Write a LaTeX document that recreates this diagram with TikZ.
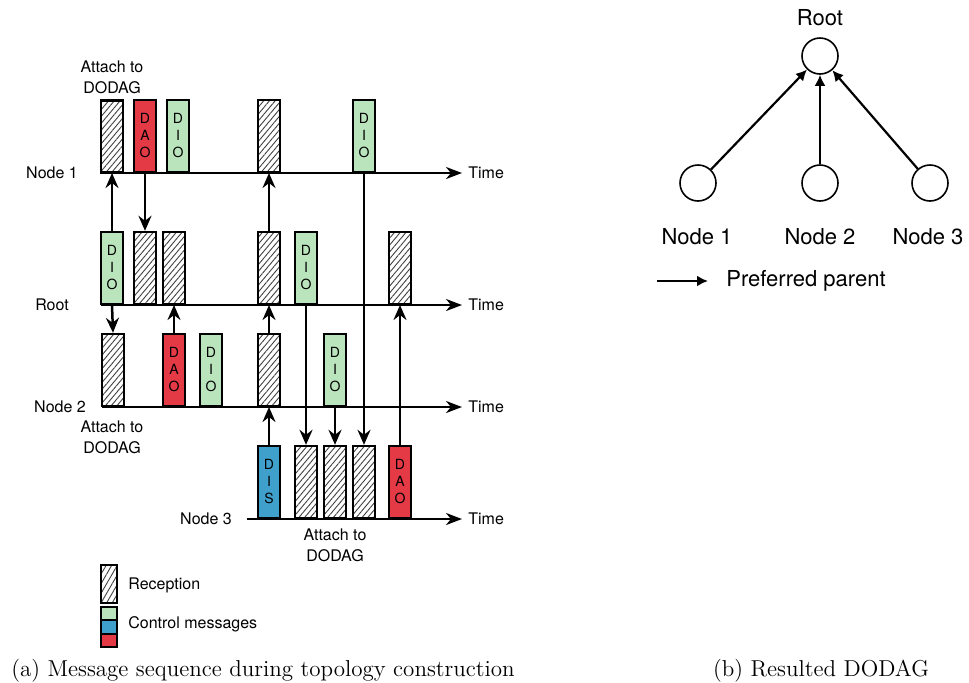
\documentclass[tikz,border=0pt]{standalone}
\usepackage{fontspec}
\usetikzlibrary{arrows.meta,patterns.meta}
\newfontfamily\helv{TeX Gyre Heros}
\definecolor{dioGreen}{RGB}{186,228,188}
\definecolor{daoRed}{RGB}{227,58,69}
\definecolor{disBlue}{RGB}{64,160,204}

\begin{document}
\begin{tikzpicture}[x=0.5pt, y=-0.5pt,
  every node/.style={inner sep=0pt, font=\helv\fontsize{8}{10.5}\selectfont},
  msg/.style={rectangle, draw, line width=1.1pt, minimum width=11pt, minimum height=36pt, anchor=south, align=center, font=\helv\fontsize{7}{8.5}\selectfont},
  rx/.style={msg, pattern={Lines[angle=50,distance=2.2pt,line width=0.45pt]}, pattern color=black!75},
  dio/.style={msg, fill=dioGreen},
  dao/.style={msg, fill=daoRed},
  dis/.style={msg, fill=disBlue},
  axis/.style={draw, line width=1.25pt, -{Stealth[length=8pt, width=6pt, inset=2.5pt]}},
  sig/.style={draw, line width=1.25pt, -{Stealth[length=7.5pt, width=6.5pt, inset=2.5pt]}},
  peer/.style={circle, draw, line width=0.8pt, minimum size=18pt},
  pref/.style={draw, line width=1.1pt, -{Latex[length=5.5pt, width=5.5pt]}}]
\useasboundingbox (0,0) rectangle (969,682);
\node (L1) at (52,173) {Node 1};
\node (L0) at (52,305) {Root};
\node (L2) at (60,407) {Node 2};
\node (L3) at (206,519) {Node 3};
\coordinate (S1) at (101,173);
\coordinate (S0) at (101,305);
\coordinate (S2) at (102,407);
\coordinate (S3) at (247,519);
\node[anchor=west, inner sep=3pt] (T1) at (462,173) {Time};
\node[anchor=west, inner sep=3pt] (T0) at (462,305) {Time};
\node[anchor=west, inner sep=3pt] (T2) at (462,407) {Time};
\node[anchor=west, inner sep=3pt] (T3) at (462,519) {Time};
\draw[axis] (S1) -- (T1.west);
\draw[axis] (S0) -- (T0.west);
\draw[axis] (S2) -- (T2.west);
\draw[axis] (S3) -- (T3.west);
\node[rx] (N1a) at (112,173) {};
\node[dao] (N1b) at (145,173) {D\\A\\O};
\node[dio] (N1c) at (178,173) {D\\I\\O};
\node[rx] (N1d) at (269,173) {};
\node[dio] (N1e) at (364,173) {D\\I\\O};
\node[dio] (Ra) at (112,305) {D\\I\\O};
\node[rx] (Rb) at (145,305) {};
\node[rx] (Rc) at (174,305) {};
\node[rx] (Rd) at (269,305) {};
\node[dio] (Re) at (306,305) {D\\I\\O};
\node[rx] (Rf) at (400,305) {};
\node[rx] (N2a) at (113,407) {};
\node[dao] (N2b) at (174,407) {D\\A\\O};
\node[dio] (N2c) at (211,407) {D\\I\\O};
\node[rx] (N2d) at (269,407) {};
\node[dio] (N2e) at (335,407) {D\\I\\O};
\node[dis] (N3a) at (269,519) {D\\I\\S};
\node[rx] (N3b) at (306,519) {};
\node[rx] (N3c) at (335,519) {};
\node[rx] (N3d) at (364,519) {};
\node[dao] (N3e) at (400,519) {D\\A\\O};
\draw[sig] (Ra.north) -- (N1a.south);
\draw[sig] (N1b.south) -- (Rb.north);
\draw[sig] (Rd.north) -- (N1d.south);
\draw[sig] (N1e.south) -- (N3d.north);
\draw[sig] (Ra.south) -- (N2a.north);
\draw[sig] (N2b.north) -- (Rc.south);
\draw[sig] (N2d.north) -- (Rd.south);
\draw[sig] (Re.south) -- (N3b.north);
\draw[sig] (N3a.north) -- (N2d.south);
\draw[sig] (N2e.south) -- (N3c.north);
\draw[sig] (N3e.north) -- (Rf.south);
\node[align=center] (A1) at (112,77) {Attach to\\DODAG};
\node[align=center] (A2) at (112,437) {Attach to\\DODAG};
\node[align=center] (A3) at (335,545) {Attach to\\DODAG};
\node[rectangle, draw, line width=1.1pt, minimum width=8pt, minimum height=19pt, pattern={Lines[angle=60,distance=2.4pt,line width=0.45pt]}, pattern color=black!75] (KRx) at (109,584) {};
\node[anchor=west] (KRxT) at (128,585) {Reception};
\node[rectangle, draw, line width=1.1pt, fill=dioGreen, minimum width=8pt, minimum height=6.7pt] (KG) at (109,613.5) {};
\node[rectangle, draw, line width=1.1pt, fill=disBlue, minimum width=8pt, minimum height=6.7pt] (KB) at (109,627) {};
\node[rectangle, draw, line width=1.1pt, fill=daoRed, minimum width=8pt, minimum height=6.7pt] (KR) at (109,640.5) {};
\node[anchor=west] (KCT) at (128,624) {Control messages};
\node[peer] (P0) at (820,56) {};
\node[peer] (P1) at (698,183) {};
\node[peer] (P2) at (820,183) {};
\node[peer] (P3) at (930,183) {};
\node[font=\helv\fontsize{11}{13}\selectfont] (P0T) at (820,18) {Root};
\node[font=\helv\fontsize{11}{13}\selectfont] (P1T) at (697,237) {Node 1};
\node[font=\helv\fontsize{11}{13}\selectfont] (P2T) at (820,237) {Node 2};
\node[font=\helv\fontsize{11}{13}\selectfont] (P3T) at (928,237) {Node 3};
\draw[pref] (P1) -- (P0);
\draw[pref] (P2) -- (P0);
\draw[pref] (P3) -- (P0);
\coordinate (K0) at (657,281);
\node[anchor=west, inner sep=9pt, font=\helv\fontsize{11}{13}\selectfont] (KPT) at (708,281) {Preferred parent};
\draw[pref] (K0) -- (KPT.west);
\node[font=\rmfamily\fontsize{11.5}{13}\selectfont] (CapA) at (263,671) {(a) Message sequence during topology construction};
\node[font=\rmfamily\fontsize{11.5}{13}\selectfont] (CapB) at (821,671) {(b) Resulted DODAG};
\end{tikzpicture}
\end{document}
